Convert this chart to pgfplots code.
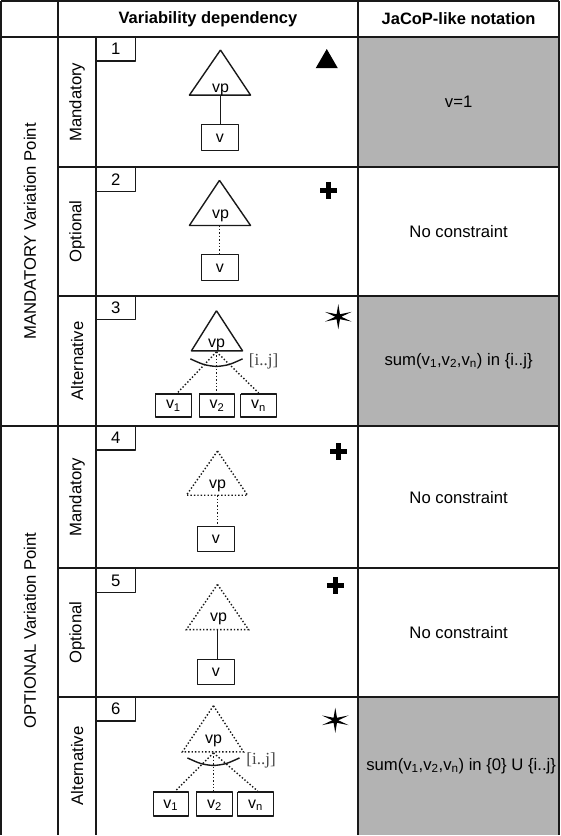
\documentclass[border=0pt]{standalone}
\usepackage{fontspec}
\setmainfont{Liberation Sans}
\newfontfamily\serifi{Liberation Serif}
\usepackage{pgfplots}
\usepackage{pgfplotstable}
\pgfplotsset{compat=1.18}
\definecolor{cellgray}{RGB}{179,179,179}
\definecolor{lin}{RGB}{25,25,25}
\definecolor{brk}{RGB}{70,70,70}
\newcommand\fs{\fontsize{16.7}{20}\selectfont}
\newcommand\fd{\fontsize{16}{19}\selectfont}
\newcommand\fb{\fontsize{16.5}{19}\selectfont\bfseries}
\pgfplotstableread{
x y
0 -12.5
1.7 -2.5
13.2 -4.8
3 0
13.2 4.8
1.7 2.5
0 12.5
-1.7 2.5
-13.2 4.8
-3 0
-13.2 -4.8
-1.7 -2.5
}\starshape
\pgfplotsset{
  tl/.style={color=lin, line width=1.8bp},
  dl/.style={color=lin, line width=1.4bp, line join=round},
  dt/.style={color=lin, line width=1.4bp, dash pattern=on 1.4bp off 2bp},
  pl/.style={black, line width=4.6bp},
}
\begin{document}
\begin{tikzpicture}
\begin{axis}[width=569bp, height=836bp, scale only axis, xmin=0, xmax=569, ymin=0, ymax=836,
  y dir=reverse, hide axis, clip=false, no markers]
% grey cells
\addplot[fill=cellgray, draw=none] coordinates {(367,40) (568,40) (568,170) (367,170)};
\addplot[fill=cellgray, draw=none] coordinates {(367,298) (568,298) (568,428) (367,428)};
\addplot[fill=cellgray, draw=none] coordinates {(367,698) (568,698) (568,836) (367,836)};
% table grid
\addplot[tl] coordinates {(11,4) (568,4)};
\addplot[tl] coordinates {(11,40) (568,40)};
\addplot[tl] coordinates {(68,170) (568,170)};
\addplot[tl] coordinates {(68,298) (568,298)};
\addplot[tl] coordinates {(11,428) (568,428)};
\addplot[tl] coordinates {(68,570) (568,570)};
\addplot[tl] coordinates {(68,698) (568,698)};
\addplot[tl] coordinates {(11,4) (11,836)};
\addplot[tl] coordinates {(68,4) (68,836)};
\addplot[tl] coordinates {(106,40) (106,836)};
\addplot[tl] coordinates {(367,4) (367,836)};
\addplot[tl] coordinates {(568,4) (568,836)};
% number boxes
\addplot[dl] coordinates {(106,40) (145,40) (145,64) (106,64)};
\addplot[dl] coordinates {(106,170) (145,170) (145,194) (106,194)};
\addplot[dl] coordinates {(106,298) (145,298) (145,322) (106,322)};
\addplot[dl] coordinates {(106,428) (145,428) (145,452) (106,452)};
\addplot[dl] coordinates {(106,570) (145,570) (145,594) (106,594)};
\addplot[dl] coordinates {(106,698) (145,698) (145,722) (106,722)};
% row 1
\addplot[dl] coordinates {(230,53) (260,98) (199,98) (230,53)};
\addplot[dl] coordinates {(230,98) (230,127)};
\addplot[dl] coordinates {(211,127) (248,127) (248,153) (211,153) (211,127)};
% row 2
\addplot[dl] coordinates {(229,183) (260,228) (199,228) (229,183)};
\addplot[dt] coordinates {(229,228) (229,257)};
\addplot[dl] coordinates {(211,257) (248,257) (248,283) (211,283) (211,257)};
% row 3
\addplot[dl] coordinates {(226,313) (252,353) (201,353) (226,313)};
\addplot[dl, smooth] coordinates {(200,361) (213,366.5) (226,368.5) (239,366.5) (252,361)};
\addplot[dt] coordinates {(226,354) (187,395)};
\addplot[dt] coordinates {(226,354) (226,395)};
\addplot[dt] coordinates {(226,354) (268,395)};
\addplot[dl] coordinates {(165,396) (201,396) (201,419) (165,419) (165,396)};
\addplot[dl] coordinates {(209,396) (244,396) (244,419) (209,419) (209,396)};
\addplot[dl] coordinates {(250,396) (286,396) (286,419) (250,419) (250,396)};
% row 4
\addplot[dt] coordinates {(227,453) (257,497) (196,497) (227,453)};
\addplot[dt] coordinates {(227,497) (227,528)};
\addplot[dl] coordinates {(207,528) (244,528) (244,553) (207,553) (207,528)};
% row 5
\addplot[dt] coordinates {(227,586) (258,631) (196,631) (227,586)};
\addplot[dl] coordinates {(227,631) (227,661)};
\addplot[dl] coordinates {(207,661) (244,661) (244,686) (207,686) (207,661)};
% row 6
\addplot[dt] coordinates {(223,707) (253,753) (192,753) (223,707)};
\addplot[dl, smooth] coordinates {(197,759) (210,764.5) (223,766.5) (236,764.5) (249,759)};
\addplot[dt] coordinates {(223,754) (185,792)};
\addplot[dt] coordinates {(223,754) (223,792)};
\addplot[dt] coordinates {(223,754) (267,792)};
\addplot[dl] coordinates {(163,793) (198,793) (198,817) (163,817) (163,793)};
\addplot[dl] coordinates {(206,793) (242,793) (242,817) (206,817) (206,793)};
\addplot[dl] coordinates {(247,793) (283,793) (283,817) (247,817) (247,793)};
% symbols
\addplot[fill=black, draw=none] coordinates {(325,71) (347,71) (336,52)};
\addplot[pl] coordinates {(329.5,193) (346.5,193)};
\addplot[pl] coordinates {(338,184.5) (338,201.5)};
\addplot[pl] coordinates {(339.5,453.5) (356.5,453.5)};
\addplot[pl] coordinates {(348,445) (348,462)};
\addplot[pl] coordinates {(336,587) (353,587)};
\addplot[pl] coordinates {(344.5,578.5) (344.5,595.5)};
\addplot[fill=black, draw=none] table[x expr=\thisrow{x}+347.5, y expr=\thisrow{y}+319] {\starshape};
\addplot[fill=black, draw=none] table[x expr=\thisrow{x}+344.5, y expr=\thisrow{y}+721.5] {\starshape};
% header text
\node[font=\fb] at (217.5,22) {Variability dependency};
\node[font=\fb] at (467.5,22) {JaCoP-like notation};
% left labels
\node[font=\fs, rotate=90] at (40,234) {MANDATORY Variation Point};
\node[font=\fs, rotate=90] at (40,632) {OPTIONAL Variation Point};
\node[font=\fs, rotate=90] at (87,105) {Mandatory};
\node[font=\fs, rotate=90] at (87,234) {Optional};
\node[font=\fs, rotate=90] at (87,363) {Alternative};
\node[font=\fs, rotate=90] at (87,499) {Mandatory};
\node[font=\fs, rotate=90] at (87,634) {Optional};
\node[font=\fs, rotate=90] at (87,767) {Alternative};
% numbers
\node[font=\fs] at (125.5,52) {1};
\node[font=\fs] at (125.5,182) {2};
\node[font=\fs] at (125.5,310) {3};
\node[font=\fs] at (125.5,440) {4};
\node[font=\fs] at (125.5,582) {5};
\node[font=\fs] at (125.5,710) {6};
% vp labels
\node[font=\fd, anchor=base, inner sep=0] at (230,95) {vp};
\node[font=\fd, anchor=base, inner sep=0] at (230,221) {vp};
\node[font=\fd, anchor=base, inner sep=0] at (226,350) {vp};
\node[font=\fd, anchor=base, inner sep=0] at (227,490) {vp};
\node[font=\fd, anchor=base, inner sep=0] at (228,623) {vp};
\node[font=\fd, anchor=base, inner sep=0] at (223,745) {vp};
% v labels
\node[font=\fd, anchor=base, inner sep=0] at (229.5,145) {v};
\node[font=\fd, anchor=base, inner sep=0] at (229.5,275) {v};
\node[font=\fd, anchor=base, inner sep=0] at (225.5,545) {v};
\node[font=\fd, anchor=base, inner sep=0] at (225.5,678) {v};
\node[font=\fd, anchor=base, inner sep=0] at (183,411) {v\textsubscript{1}};
\node[font=\fd, anchor=base, inner sep=0] at (226.5,411) {v\textsubscript{2}};
\node[font=\fd, anchor=base, inner sep=0] at (268,411) {v\textsubscript{n}};
\node[font=\fd, anchor=base, inner sep=0] at (180.5,809) {v\textsubscript{1}};
\node[font=\fd, anchor=base, inner sep=0] at (224,809) {v\textsubscript{2}};
\node[font=\fd, anchor=base, inner sep=0] at (265,809) {v\textsubscript{n}};
% [i..j]
\node[font=\fontsize{17}{19}\serifi, text=brk] at (273,364) {[i..j]};
\node[font=\fontsize{17}{19}\serifi, text=brk] at (270.5,762) {[i..j]};
% right column
\node[font=\fs] at (467.5,105) {v=1};
\node[font=\fs] at (467.5,234) {No constraint};
\node[font=\fs] at (467.5,363) {sum(v\textsubscript{1},v\textsubscript{2},v\textsubscript{n}) in \{i..j\}};
\node[font=\fs] at (467.5,499) {No constraint};
\node[font=\fs] at (467.5,634) {No constraint};
\node[font=\fs] at (470,767) {sum(v\textsubscript{1},v\textsubscript{2},v\textsubscript{n}) in \{0\} U \{i..j\}};
\end{axis}
\end{tikzpicture}
\end{document}
